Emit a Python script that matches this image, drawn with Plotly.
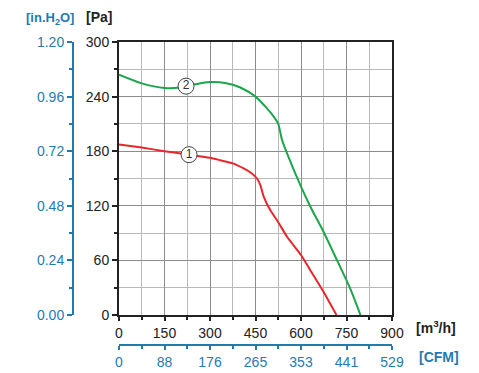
import numpy as np
import plotly.graph_objects as go

# ---- data ----
flow_red = [0, 75, 150, 225, 300, 334, 375, 411, 438, 455, 466, 477, 499, 525, 554, 600, 631, 675, 717]
pres_red = [187.5, 184, 180, 176.5, 172.7, 170, 166.6, 161, 155.5, 150, 142.7, 130, 115, 102, 86, 66, 49, 25, 0]

flow_green = [0, 75, 150, 200, 250, 300, 350, 400, 450, 488, 510, 525, 537, 554, 600, 631, 675, 719, 761, 796]
pres_green = [264, 254.5, 249.5, 250, 253.5, 256, 255, 250, 240, 227, 218, 210, 193, 177.5, 141, 119, 91, 60, 30, 0]

curve_labels = ["1", "2"]
label_flow = [231, 221]

x_ticks = [0, 150, 300, 450, 600, 750, 900]
cfm_labels = ["0", "88", "176", "265", "353", "441", "529"]
pa_ticks = [0, 60, 120, 180, 240, 300]
inh2o_ticks = [0.00, 0.24, 0.48, 0.72, 0.96, 1.20]

RED = "#e8262b"
GREEN = "#1ba64b"
BLUE = "#1f7bb0"
W, H = 479, 373

def px_x(p):
    return p / W

def px_y(p):
    return 1 - p / H

fig = go.Figure()
fig.add_trace(go.Scatter(x=flow_red, y=pres_red, mode="lines",
                         line=dict(color=RED, width=2, shape="spline", smoothing=0.6),
                         hoverinfo="skip", showlegend=False))
fig.add_trace(go.Scatter(x=flow_green, y=pres_green, mode="lines",
                         line=dict(color=GREEN, width=2, shape="spline", smoothing=0.7),
                         hoverinfo="skip", showlegend=False))

lab_y = [float(np.interp(label_flow[0], flow_red, pres_red)),
         float(np.interp(label_flow[1], flow_green, pres_green))]
fig.add_trace(go.Scatter(x=label_flow, y=lab_y, mode="markers+text", text=curve_labels,
                         textposition="middle center",
                         textfont=dict(family="Liberation Sans", size=12, color="#333333"),
                         marker=dict(symbol="circle", size=16, color="white",
                                     line=dict(color="#444444", width=1)),
                         hoverinfo="skip", showlegend=False))

# invisible traces for secondary axes
fig.add_trace(go.Scatter(x=[None], y=[None], yaxis="y2", showlegend=False, hoverinfo="skip"))
fig.add_trace(go.Scatter(x=[None], y=[None], xaxis="x2", showlegend=False, hoverinfo="skip"))

font = dict(family="Liberation Sans", size=14, color="#222222")
bfont = dict(family="Liberation Sans", size=14, color=BLUE)

fig.update_layout(
    width=W, height=H,
    margin=dict(l=0, r=0, t=0, b=0),
    paper_bgcolor="white", plot_bgcolor="white",
    xaxis=dict(domain=[px_x(119), px_x(392)], range=[0, 900], tickvals=x_ticks,
               showline=True, linecolor="#222222", linewidth=2, mirror=True,
               ticks="outside", ticklen=4, tickwidth=1.5, tickcolor="#222222",
               showgrid=True, gridcolor="#8c8c8c", gridwidth=1,
               minor=dict(dtick=75, tick0=0, showgrid=True, gridcolor="#b9b9b9",
                          ticks="outside", ticklen=3, tickcolor="#222222"),
               zeroline=False, tickfont=font, automargin=False),
    yaxis=dict(domain=[px_y(315), px_y(42)], range=[0, 300], tickvals=pa_ticks,
               showline=True, linecolor="#222222", linewidth=2, mirror=True,
               ticks="outside", ticklen=5, tickwidth=1.5, tickcolor="#222222",
               showgrid=True, gridcolor="#8c8c8c", gridwidth=1,
               minor=dict(dtick=30, tick0=0, showgrid=True, gridcolor="#b9b9b9",
                          ticks="outside", ticklen=3, tickcolor="#222222"),
               zeroline=False, tickfont=font, automargin=False),
    yaxis2=dict(overlaying="y", anchor="free", position=px_x(73), side="left",
                range=[0, 1.2], tickvals=inh2o_ticks, tickformat=".2f",
                showline=True, linecolor=BLUE, linewidth=2,
                ticks="outside", ticklen=5, tickwidth=1.5, tickcolor=BLUE,
                minor=dict(dtick=0.12, tick0=0, ticks="outside", ticklen=3, tickcolor=BLUE),
                showgrid=False, zeroline=False, tickfont=bfont, automargin=False),
    xaxis2=dict(overlaying="x", anchor="free", position=px_y(345), side="bottom",
                range=[0, 900], tickvals=x_ticks, ticktext=cfm_labels,
                showline=True, linecolor=BLUE, linewidth=2,
                ticks="outside", ticklen=4, tickwidth=1.5, tickcolor=BLUE,
                minor=dict(dtick=75, tick0=0, ticks="outside", ticklen=3, tickcolor=BLUE),
                showgrid=False, zeroline=False, tickfont=bfont, automargin=False),
)

anns = [
    dict(text="<b>[Pa]</b>", x=px_x(84), y=px_y(17), xanchor="left", yanchor="middle",
         font=dict(family="Liberation Sans", size=14, color="#222222")),
    dict(text="<b>[in.H<sub>2</sub>O]</b>", x=px_x(76), y=px_y(18), xanchor="right", yanchor="middle",
         font=dict(family="Liberation Sans", size=13, color=BLUE)),
    dict(text="<b>[m<sup>3</sup>/h]</b>", x=px_x(414), y=px_y(327), xanchor="left", yanchor="middle",
         font=dict(family="Liberation Sans", size=14, color="#222222")),
    dict(text="<b>[CFM]</b>", x=px_x(417), y=px_y(357), xanchor="left", yanchor="middle",
         font=dict(family="Liberation Sans", size=14, color=BLUE)),
]
for a in anns:
    fig.add_annotation(xref="paper", yref="paper", showarrow=False, **a)

fig.write_html("out.html", config={"displayModeBar": False},
               post_script="document.body.style.margin='0';document.body.style.overflow='hidden';")
